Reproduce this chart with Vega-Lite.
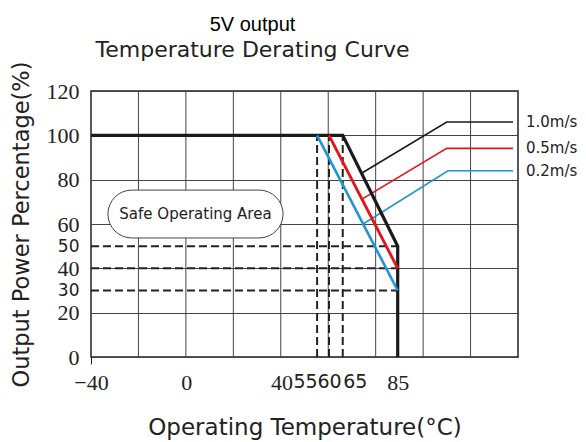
{
  "$schema": "https://vega.github.io/schema/vega-lite/v6.json",
  "width": 427,
  "height": 266,
  "autosize": "none",
  "padding": {"left": 91, "top": 91, "right": 68, "bottom": 85},
  "background": "white",
  "config": {"view": {"stroke": "#222", "strokeWidth": 1.5}},
  "title": {
    "text": "5V output",
    "subtitle": "Temperature Derating Curve",
    "anchor": "middle",
    "frame": "group",
    "dx": -52,
    "offset": 0,
    "font": "Liberation Sans",
    "fontSize": 20,
    "fontWeight": "normal",
    "color": "#000",
    "subtitleFont": "DejaVu Sans",
    "subtitleFontSize": 22,
    "subtitleColor": "#222",
    "subtitlePadding": 5
  },
  "datasets": {
    "grid": [{"t": -20}, {"t": 0}, {"t": 20}, {"t": 40}, {"t": 60}, {"t": 80}, {"t": 100}, {"t": 120}],
    "hdash": [{"pct": 50, "t1": -40, "t2": 85}, {"pct": 40, "t1": -40, "t2": 85}, {"pct": 30, "t1": -40, "t2": 85}],
    "vdash": [{"t": 55, "p1": 0, "p2": 100}, {"t": 60, "p1": 0, "p2": 100}, {"t": 65, "p1": 0, "p2": 100}],
    "area": [{"t1": -32.9, "t2": 40.7, "p1": 75.3, "p2": 53.7, "text": "Safe Operating Area", "tc": 3.9, "pc": 64.5}],
    "curves": [
      {"series": "1.0m/s", "ord": 1, "temp": -40, "pct": 100},
      {"series": "1.0m/s", "ord": 2, "temp": 65, "pct": 100},
      {"series": "1.0m/s", "ord": 3, "temp": 85, "pct": 50},
      {"series": "1.0m/s", "ord": 4, "temp": 85, "pct": 0},
      {"series": "0.5m/s", "ord": 1, "temp": 60, "pct": 100},
      {"series": "0.5m/s", "ord": 2, "temp": 85, "pct": 40},
      {"series": "0.2m/s", "ord": 1, "temp": 55, "pct": 100},
      {"series": "0.2m/s", "ord": 2, "temp": 85, "pct": 30}
    ],
    "leaders": [
      {"series": "1.0m/s", "ord": 1, "temp": 72, "pct": 83},
      {"series": "1.0m/s", "ord": 2, "temp": 107.4, "pct": 106},
      {"series": "1.0m/s", "ord": 3, "temp": 137.7, "pct": 106},
      {"series": "0.5m/s", "ord": 1, "temp": 72, "pct": 71.2},
      {"series": "0.5m/s", "ord": 2, "temp": 107.4, "pct": 94.1},
      {"series": "0.5m/s", "ord": 3, "temp": 137.7, "pct": 94.1},
      {"series": "0.2m/s", "ord": 1, "temp": 72.4, "pct": 60},
      {"series": "0.2m/s", "ord": 2, "temp": 108, "pct": 84},
      {"series": "0.2m/s", "ord": 3, "temp": 137.7, "pct": 84}
    ],
    "labels": [
      {"series": "1.0m/s", "temp": 137.7, "pct": 106},
      {"series": "0.5m/s", "temp": 137.7, "pct": 94.1},
      {"series": "0.2m/s", "temp": 137.7, "pct": 84}
    ]
  },
  "resolve": {"scale": {"x": "independent"}},
  "layer": [
    {
      "data": {"name": "grid"},
      "mark": {"type": "rule", "color": "#444", "strokeWidth": 1},
      "encoding": {
        "x": {"field": "t", "type": "quantitative", "scale": {"domain": [-40, 140], "nice": false, "zero": false}, "axis": null}
      }
    },
    {
      "encoding": {
        "x": {
          "type": "quantitative",
          "scale": {"domain": [-40, 60, 85, 140], "range": [0, 238, 306.7, 427], "nice": false, "zero": false},
          "axis": {
            "orient": "bottom",
            "title": "Operating Temperature(°C)",
            "titleFont": "DejaVu Sans",
            "titleFontSize": 23,
            "titleFontWeight": "normal",
            "titleColor": "#222",
            "titlePadding": 23,
            "values": [-40, 0, 40, 55, 60, 65, 85],
            "labelFlush": false,
            "labelOverlap": false,
            "labelBound": false,
            "labelPadding": 8,
            "labelColor": "#222",
            "labelFont": {"condition": {"test": "datum.value >= 55 && datum.value <= 65", "value": "DejaVu Sans"}, "value": "Liberation Serif"},
            "labelFontSize": {"condition": {"test": "datum.value >= 55 && datum.value <= 65", "value": 19}, "value": 22},
            "labelAlign": {"condition": [{"test": "datum.value == 55", "value": "right"}, {"test": "datum.value == 65", "value": "left"}], "value": "center"},
            "grid": false,
            "domain": false,
            "ticks": true,
            "tickSize": 7,
            "tickColor": "#222",
            "tickOpacity": {"condition": {"test": "datum.value == -40", "value": 1}, "value": 0}
          }
        },
        "y": {
          "type": "quantitative",
          "scale": {"domain": [0, 120], "nice": false, "zero": false},
          "axis": {
            "title": "Output Power Percentage(%)",
            "titleFont": "DejaVu Sans",
            "titleFontSize": 22.5,
            "titleFontWeight": "normal",
            "titleColor": "#222",
            "titlePadding": 13,
            "values": [0, 20, 30, 40, 50, 60, 80, 100, 120],
            "labelPadding": 12,
            "labelColor": "#222",
            "labelFont": {"condition": {"test": "datum.value == 30 || datum.value == 50", "value": "DejaVu Sans"}, "value": "Liberation Serif"},
            "labelFontSize": {"condition": {"test": "datum.value == 30 || datum.value == 50", "value": 17}, "value": 22},
            "ticks": false,
            "domain": false,
            "grid": true,
            "gridColor": "#444",
            "gridWidth": 1,
            "gridOpacity": {"condition": {"test": "datum.value % 20 != 0", "value": 0}, "value": 1}
          }
        }
      },
      "layer": [
        {
          "data": {"name": "hdash"},
          "mark": {"type": "rule", "color": "#222", "strokeWidth": 2, "strokeDash": [8, 4]},
          "encoding": {"x": {"field": "t1"}, "x2": {"field": "t2"}, "y": {"field": "pct"}}
        },
        {
          "data": {"name": "vdash"},
          "mark": {"type": "rule", "color": "#222", "strokeWidth": 2, "strokeDash": [8, 4]},
          "encoding": {"x": {"field": "t"}, "y": {"field": "p1"}, "y2": {"field": "p2"}}
        },
        {
          "data": {"name": "area"},
          "mark": {"type": "rect", "fill": "white", "stroke": "#444", "strokeWidth": 1, "cornerRadius": 24},
          "encoding": {"x": {"field": "t1"}, "x2": {"field": "t2"}, "y": {"field": "p1"}, "y2": {"field": "p2"}}
        },
        {
          "data": {"name": "area"},
          "mark": {"type": "text", "font": "DejaVu Sans", "fontSize": 15, "color": "#222"},
          "encoding": {"x": {"field": "tc"}, "y": {"field": "pc"}, "text": {"field": "text"}}
        },
        {
          "data": {"name": "leaders"},
          "mark": {"type": "line", "strokeWidth": 1.6},
          "encoding": {
            "x": {"field": "temp"},
            "y": {"field": "pct"},
            "order": {"field": "ord", "type": "quantitative"},
            "detail": {"field": "series"},
            "color": {"field": "series", "type": "nominal", "scale": {"domain": ["1.0m/s", "0.5m/s", "0.2m/s"], "range": ["#1a1a1a", "#e3141c", "#1f95d2"]}, "legend": null}
          }
        },
        {
          "data": {"name": "curves"},
          "mark": {"type": "line", "strokeJoin": "miter"},
          "encoding": {
            "x": {"field": "temp"},
            "y": {"field": "pct"},
            "order": {"field": "ord", "type": "quantitative"},
            "detail": {"field": "series"},
            "color": {"field": "series", "type": "nominal", "legend": null},
            "strokeWidth": {"field": "series", "type": "nominal", "scale": {"domain": ["1.0m/s", "0.5m/s", "0.2m/s"], "range": [3.2, 2.6, 2.6]}, "legend": null}
          }
        },
        {
          "data": {"name": "labels"},
          "mark": {"type": "text", "align": "left", "baseline": "middle", "dx": 13, "font": "DejaVu Sans", "fontSize": 15, "color": "#222"},
          "encoding": {"x": {"field": "temp"}, "y": {"field": "pct"}, "text": {"field": "series"}}
        }
      ]
    }
  ]
}
